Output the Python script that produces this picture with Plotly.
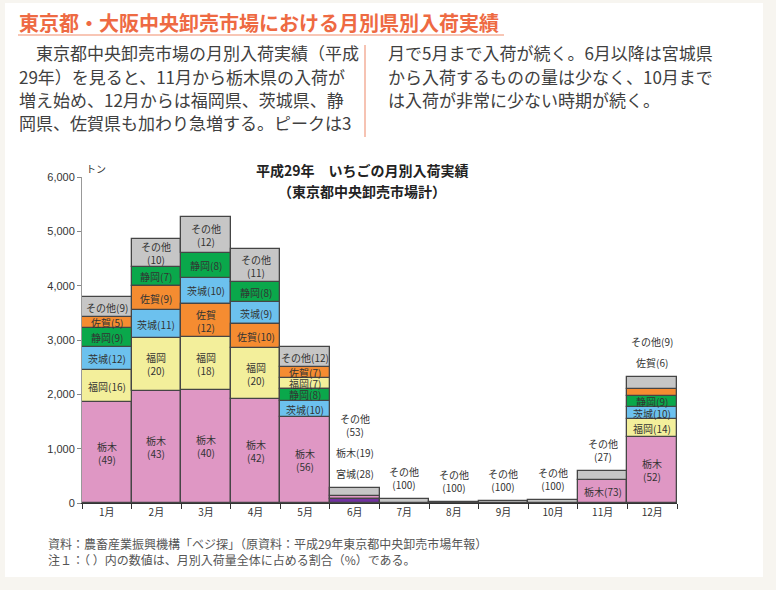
import plotly.graph_objects as go

# ---------------- data ----------------
months = ["1月", "2月", "3月", "4月", "5月", "6月", "7月", "8月", "9月", "10月", "11月", "12月"]

tochigi = [1850, 2070, 2080, 1910, 1580, 55, 0, 0, 0, 0, 430, 1210]
fukuoka = [600, 960, 970, 935, 200, 0, 0, 0, 0, 0, 0, 335]
ibaraki = [430, 520, 490, 405, 300, 0, 0, 0, 0, 0, 0, 215]
shizuoka = [340, 355, 455, 375, 220, 0, 0, 0, 0, 0, 0, 210]
saga = [200, 445, 610, 445, 195, 0, 0, 0, 0, 0, 0, 125]
miyagi = [0, 0, 0, 0, 0, 80, 0, 0, 0, 0, 0, 0]
sonota = [370, 500, 650, 600, 375, 150, 70, 25, 35, 50, 160, 230]

# shares (%) as printed
share_tochigi = [49, 43, 40, 42, 56, 19, None, None, None, None, 73, 52]
share_fukuoka = [16, 20, 18, 20, 7, None, None, None, None, None, None, 14]
share_ibaraki = [12, 11, 10, 9, 10, None, None, None, None, None, None, 10]
share_shizuoka = [9, 7, 8, 8, 8, None, None, None, None, None, None, 9]
share_saga = [5, 9, 12, 10, 7, None, None, None, None, None, None, 6]
share_miyagi = [None, None, None, None, None, 28, None, None, None, None, None, None]
share_sonota = [9, 10, 12, 11, 12, 53, 100, 100, 100, 100, 27, 9]

# stacking order (bottom -> top) per month
stack_order = [
    ["栃木", "福岡", "茨城", "静岡", "佐賀", "その他"],
    ["栃木", "福岡", "茨城", "佐賀", "静岡", "その他"],
    ["栃木", "福岡", "佐賀", "茨城", "静岡", "その他"],
    ["栃木", "福岡", "佐賀", "茨城", "静岡", "その他"],
    ["栃木", "茨城", "静岡", "福岡", "佐賀", "その他"],
    ["宮城", "栃木", "その他"],
    ["その他"], ["その他"], ["その他"], ["その他"],
    ["栃木", "その他"],
    ["栃木", "福岡", "茨城", "静岡", "佐賀", "その他"],
]

values = {"栃木": tochigi, "福岡": fukuoka, "茨城": ibaraki, "静岡": shizuoka,
          "佐賀": saga, "宮城": miyagi, "その他": sonota}
shares = {"栃木": share_tochigi, "福岡": share_fukuoka, "茨城": share_ibaraki,
          "静岡": share_shizuoka, "佐賀": share_saga, "宮城": share_miyagi,
          "その他": share_sonota}

# ---------------- styles ----------------
colors = {"栃木": "#df97c4", "福岡": "#f3ef9b", "茨城": "#6cc1ee", "静岡": "#0aa84b",
          "佐賀": "#f58c31", "宮城": "#7131a1", "その他": "#c6c6c6"}

two_line = {("栃木", 0), ("栃木", 1), ("栃木", 2), ("栃木", 3), ("栃木", 4), ("栃木", 11),
            ("福岡", 1), ("福岡", 2), ("福岡", 3), ("佐賀", 2),
            ("その他", 1), ("その他", 2), ("その他", 3),
            ("その他", 5), ("その他", 6), ("その他", 7), ("その他", 8), ("その他", 9),
            ("その他", 10)}
outside = {5: ["宮城", "栃木", "その他"], 6: ["その他"], 7: ["その他"], 8: ["その他"],
           9: ["その他"], 10: ["その他"], 11: ["佐賀", "その他"]}

FONT = "Noto Sans CJK JP"
W, H = 776, 590
L, R, T, B = 82, 677, 177, 503


def px(x):
    return (x - L) / (R - L)


def py(y):
    return (B - y) / (B - T)


# bases
bases = {k: [None] * 12 for k in values}
totals = []
for m in range(12):
    cum = 0
    for s in stack_order[m]:
        bases[s][m] = cum
        cum += values[s][m]
    totals.append(cum)

fig = go.Figure()
for s in ["栃木", "福岡", "茨城", "静岡", "佐賀", "宮城", "その他"]:
    ys = [v if v > 0 else None for v in values[s]]
    fig.add_bar(x=months, y=ys, base=bases[s], name=s,
                marker=dict(color=colors[s], line=dict(color="#454545", width=1.3)),
                width=1.0, hoverinfo="skip", showlegend=False)

ann = []


def label_text(s, m):
    sh = shares[s][m]
    if (s, m) in two_line:
        return f"{s}<br>({sh})"
    return f"{s}({sh})"


for m in range(12):
    out = outside.get(m, [])
    for s in stack_order[m]:
        if s in out:
            continue
        ann.append(dict(x=months[m], y=bases[s][m] + values[s][m] / 2, text=label_text(s, m),
                        showarrow=False, font=dict(family=FONT, size=10, color="#333333"),
                        xref="x", yref="y"))
    shift = 5
    for s in out:
        lines = 2 if (s, m) in two_line else 1
        ann.append(dict(x=months[m], y=totals[m], text=label_text(s, m), showarrow=False,
                        yanchor="bottom", yshift=shift,
                        font=dict(family=FONT, size=10, color="#333333"), xref="x", yref="y"))
        shift += 21 if lines == 1 else 34

# header text
ann.append(dict(x=px(17), y=py(22), xref="paper", yref="paper", xanchor="left", yanchor="middle",
                text="<b>東京都・大阪中央卸売市場における月別県別入荷実績</b>", showarrow=False,
                font=dict(family=FONT, size=20, color="#ee6a43")))
left_lines = ["　東京都中央卸売市場の月別入荷実績（平成",
              "29年）を見ると、11月から栃木県の入荷が",
              "増え始め、12月からは福岡県、茨城県、静",
              "岡県、佐賀県も加わり急増する。ピークは3"]
right_lines = ["月で5月まで入荷が続く。6月以降は宮城県",
               "から入荷するものの量は少なく、10月まで",
               "は入荷が非常に少ない時期が続く。"]
for i, t in enumerate(left_lines):
    ann.append(dict(x=px(17), y=py(53 + 23 * i), xref="paper", yref="paper", xanchor="left",
                    yanchor="middle", text=t, showarrow=False,
                    font=dict(family=FONT, size=17, color="#404040")))
for i, t in enumerate(right_lines):
    ann.append(dict(x=px(386), y=py(53 + 23 * i), xref="paper", yref="paper", xanchor="left",
                    yanchor="middle", text=t, showarrow=False,
                    font=dict(family=FONT, size=17, color="#404040")))

# chart title
ann.append(dict(x=px(362), y=py(170), xref="paper", yref="paper", xanchor="center", yanchor="middle",
                text="<b>平成29年　いちごの月別入荷実績</b>", showarrow=False,
                font=dict(family=FONT, size=14, color="#222222")))
ann.append(dict(x=px(362), y=py(191), xref="paper", yref="paper", xanchor="center", yanchor="middle",
                text="<b>（東京都中央卸売市場計）</b>", showarrow=False,
                font=dict(family=FONT, size=14, color="#222222")))
# unit
ann.append(dict(x=px(84), y=py(169), xref="paper", yref="paper", xanchor="left", yanchor="middle",
                text="トン", showarrow=False, font=dict(family=FONT, size=10, color="#333333")))
# footer
ann.append(dict(x=px(46), y=py(543), xref="paper", yref="paper", xanchor="left", yanchor="middle",
                text="資料：農畜産業振興機構「ベジ探」（原資料：平成29年東京都中央卸売市場年報）",
                showarrow=False, font=dict(family=FONT, size=12, color="#555555")))
ann.append(dict(x=px(46), y=py(559), xref="paper", yref="paper", xanchor="left", yanchor="middle",
                text="注１：（ ）内の数値は、月別入荷量全体に占める割合（%）である。",
                showarrow=False, font=dict(family=FONT, size=12, color="#555555")))

shapes = [
    dict(type="rect", xref="paper", yref="paper", x0=px(5), x1=px(763), y0=py(577), y1=py(3),
         fillcolor="#ffffff", line=dict(width=0), layer="below"),
    dict(type="line", xref="paper", yref="paper", x0=px(18), x1=px(504), y0=py(35), y1=py(35),
         line=dict(color="#f8c6b5", width=2)),
    dict(type="line", xref="paper", yref="paper", x0=px(365), x1=px(365), y0=py(45), y1=py(137),
         line=dict(color="#f6c3b3", width=2)),
]

fig.update_layout(
    width=W, height=H,
    margin=dict(l=L, r=W - R, t=T, b=H - B, autoexpand=False),
    paper_bgcolor="#f7f5f0", plot_bgcolor="rgba(0,0,0,0)",
    barmode="overlay", bargap=0,
    annotations=ann, shapes=shapes,
    font=dict(family=FONT),
    xaxis=dict(type="category", categoryorder="array", categoryarray=months,
               tickson="boundaries", ticks="outside", ticklen=5, tickcolor="#333333",
               showline=True, linecolor="#333333", linewidth=1, showgrid=False,
               tickfont=dict(family=FONT, size=10, color="#333333"), range=[-0.5, 11.5],
               fixedrange=True),
    yaxis=dict(range=[0, 6000], tickvals=[0, 1000, 2000, 3000, 4000, 5000, 6000],
               tickformat=",", ticks="outside", ticklen=4, tickcolor="#888888",
               showline=True, linecolor="#999999", linewidth=1, showgrid=False, zeroline=False,
               tickfont=dict(family="Liberation Sans", size=11, color="#333333"),
               fixedrange=True),
)

fig.write_html("out.html", config={"displayModeBar": False},
               post_script="document.body.style.margin='0';"
                           "document.body.style.background='#f7f5f0';")
